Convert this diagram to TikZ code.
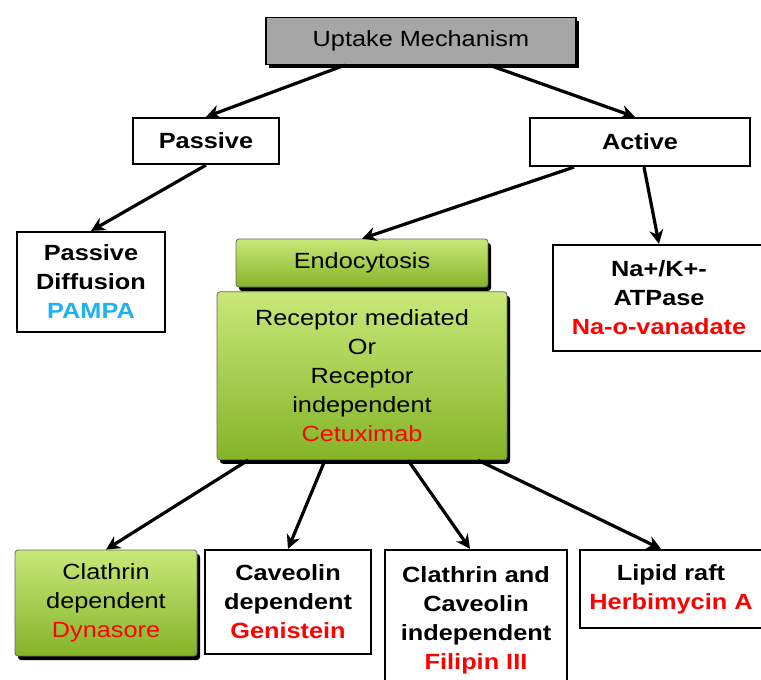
\documentclass[tikz,border=0pt]{standalone}
\usepackage{fontspec}
\setmainfont{Liberation Sans}[FakeStretch=1.15]
\usetikzlibrary{arrows.meta,positioning,shadows}
\definecolor{greentop}{RGB}{200,232,120}
\definecolor{greenbot}{RGB}{132,180,40}
\definecolor{boxgray}{RGB}{166,166,166}
\definecolor{pampablue}{RGB}{30,178,240}
\begin{document}
\begin{tikzpicture}[x=1pt, y=-1pt,
    plain/.style={rectangle, draw, line width=2.2pt, fill=white, align=center, inner sep=1pt, font=\fontsize{22}{29}\selectfont\bfseries},
    greenbox/.style={rectangle, draw=black!60, line width=0.8pt, rounded corners=3pt, top color=greentop, bottom color=greenbot, align=center, inner sep=1pt,
        drop shadow={fill=black, opacity=1, shadow xshift=3pt, shadow yshift=-4pt}, font=\fontsize{22}{29}\selectfont},
    topbox/.style={rectangle, draw, line width=1.2pt, fill=boxgray, font=\fontsize{22}{29}\selectfont,
        drop shadow={fill=black, opacity=1, shadow xshift=3pt, shadow yshift=-3pt}},
    arrow/.style={-{Stealth[length=14pt,width=14pt]}, line width=3.2pt}
]
\useasboundingbox (0,0) rectangle (761,680);

% top levels
\node[topbox, minimum width=310pt, minimum height=47pt] (uptake) at (421,41) {Uptake Mechanism};
\node[plain, minimum width=146pt, minimum height=46pt] (passive) at (206,141) {Passive};
\node[plain, minimum width=220pt, minimum height=48pt] (active) at (640,142) {Active};

\node[plain, minimum width=148pt, minimum height=100pt] (diffusion) at (91,282) {
    Passive\\
    Diffusion\\
    \textcolor{pampablue}{PAMPA}
};
\node[greenbox, minimum width=252pt, minimum height=48pt] (endo) at (362,263) {Endocytosis};
\node[greenbox, minimum width=290pt, minimum height=168pt, below=4pt of endo] (receptor) {
    Receptor mediated\\
    Or\\
    Receptor\\
    independent\\
    \textcolor{red}{Cetuximab}
};
\node[plain, minimum width=212pt, minimum height=106pt] (pump) at (659,298) {
    Na+/K+-\\
    ATPase\\
    \textcolor{red}{Na-o-vanadate}
};

% bottom row
\node[greenbox, minimum width=182pt, minimum height=106pt] (clathrin) at (106,603) {
    Clathrin\\
    dependent\\
    \textcolor{red}{Dynasore}
};
\node[plain, minimum width=166pt, minimum height=104pt] (caveolin) at (288,602) {
    Caveolin\\
    dependent\\
    \textcolor{red}{Genistein}
};
\node[plain, minimum width=182pt, minimum height=140pt] (indep) at (476,620) {
    Clathrin and\\
    Caveolin\\
    independent\\
    \textcolor{red}{Filipin III}
};
\node[plain, minimum width=182pt, minimum height=78pt] (lipid) at (671,589) {
    Lipid raft\\
    \textcolor{red}{Herbimycin A}
};

\draw[arrow] ([xshift=-76pt]uptake.south) -- (passive.north);
\draw[arrow] ([xshift=68pt]uptake.south) -- ([xshift=-5pt]active.north);
\draw[arrow] (passive.south) -- (diffusion.north);
\draw[arrow] ([xshift=-66pt]active.south) -- (endo.north);
\draw[arrow] ([xshift=4pt]active.south) -- (pump.north);

\draw[arrow] ([xshift=-114pt]receptor.south) -- (clathrin.north);
\draw[arrow] ([xshift=-37pt]receptor.south) -- (caveolin.north);
\draw[arrow] ([xshift=46pt]receptor.south) -- ([xshift=-6pt]indep.north);
\draw[arrow] ([xshift=116pt]receptor.south) -- ([xshift=-10pt]lipid.north);

\end{tikzpicture}
\end{document}
